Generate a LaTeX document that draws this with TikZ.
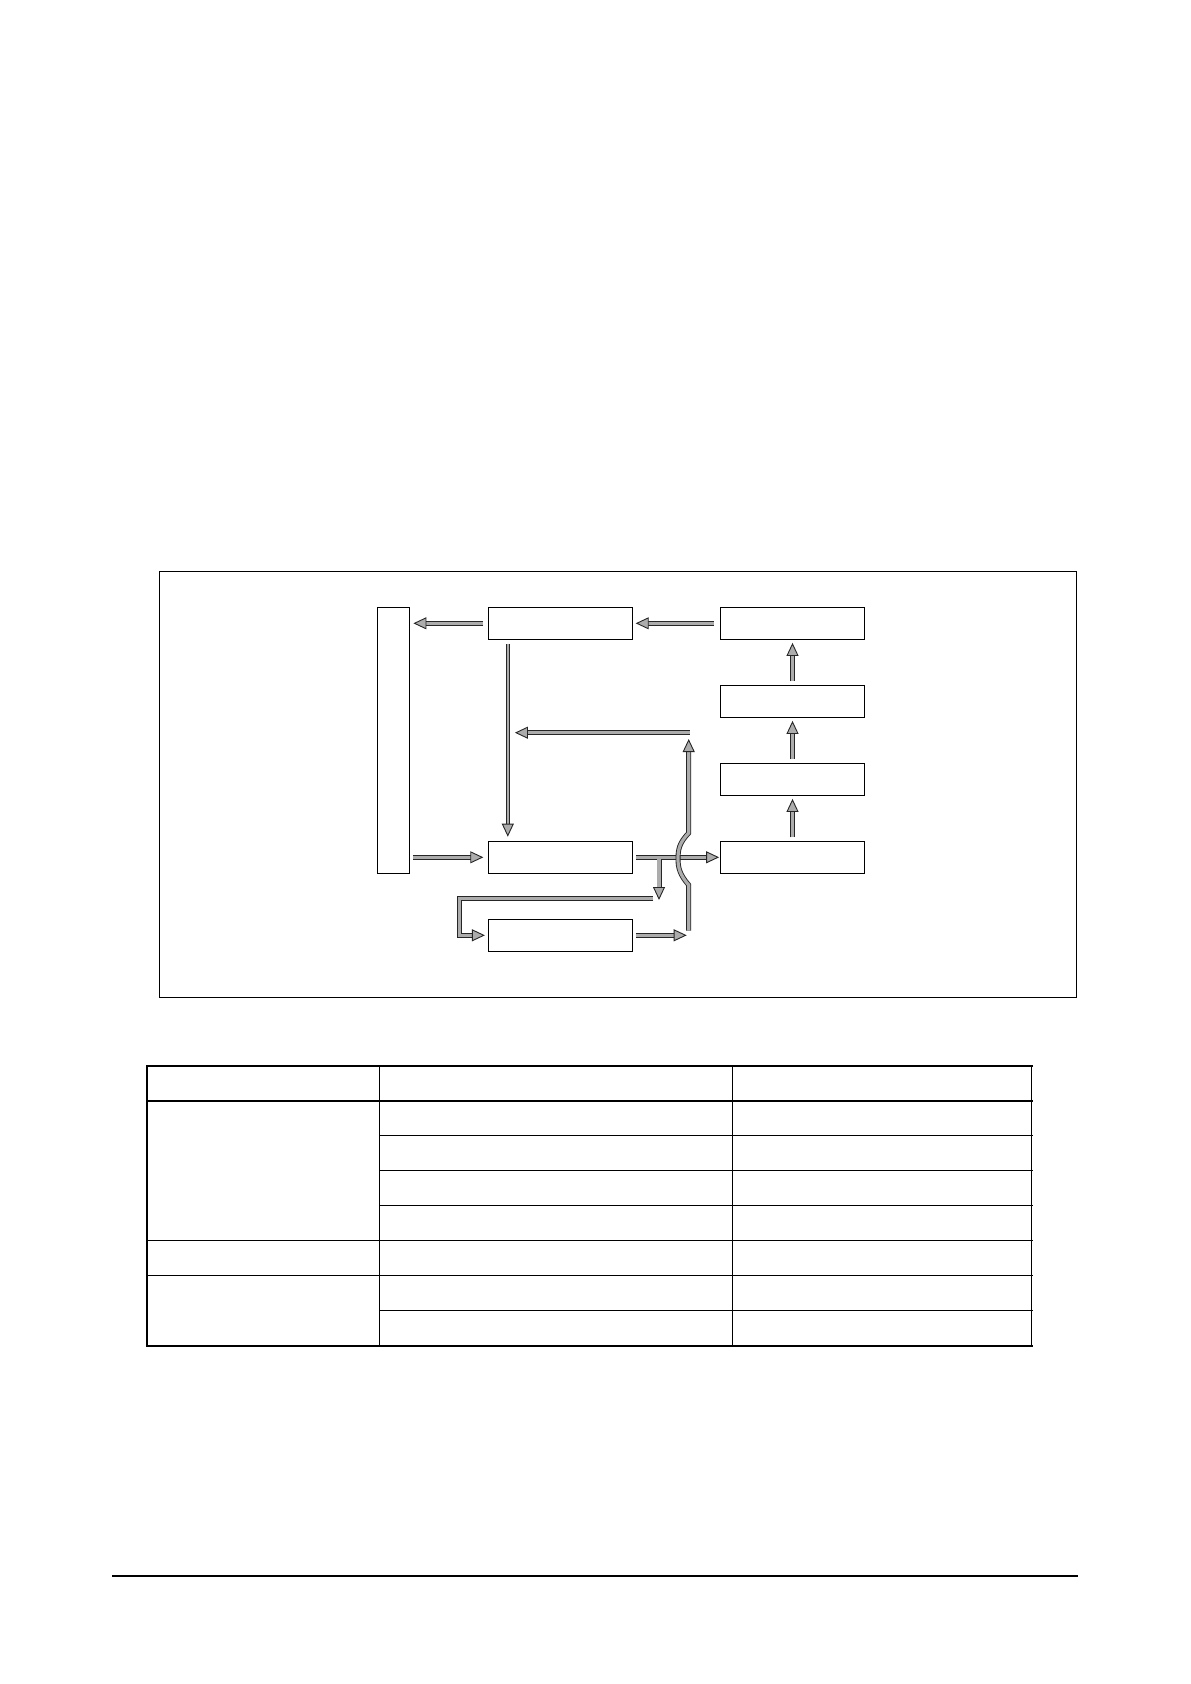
\documentclass[tikz,border=0pt]{standalone}
\usepackage{tikz}
\usetikzlibrary{arrows.meta}

\begin{document}
\begin{tikzpicture}[x=0.5pt, y=-0.5pt,
	box/.style={draw, line width=0.5pt, minimum width=72pt, minimum height=16pt, inner sep=0pt, outer sep=0pt},
	flow/.style={draw=black!85, line width=0.45pt, double=gray!65, double distance=1.6pt, -{Triangle[open, fill=gray!65, length=6.5pt, width=6pt, line width=0.45pt]}},
	thinrule/.style={line width=0.5pt},
	thickrule/.style={line width=0.9pt}]
	\useasboundingbox (0,0) rectangle (1190,1684);
	\draw[line width=0.5pt] (159.3,571.3) rectangle (1076.7,997.3);
	% blocks
	\node[box, minimum width=16pt, minimum height=133pt] (bus) at (393.4,740.3) {};
	\node[box] (mid1) at (560.9,623.3) {};
	\node[box] (mid2) at (560.9,857.3) {};
	\node[box] (mid3) at (560.9,935.3) {};
	\node[box] (right1) at (792.5,623.3) {};
	\node[box] (right2) at (792.5,701.3) {};
	\node[box] (right3) at (792.5,779.3) {};
	\node[box] (right4) at (792.5,857.3) {};
	\coordinate (fbR) at (689.5,732.7);
	\coordinate (fbL) at (514.9,732.7);
	\coordinate (split) at (659,857.3);
	\coordinate (loopR) at (653.3,898.7);
	\coordinate (upB) at (688.7,930.7);
	\coordinate (upT) at (688.7,739);
	% arrows
	\draw[flow, shorten <=2.8pt, shorten >=2pt] (mid1.west) -- (bus.east |- mid1.west);
	\draw[flow, shorten <=3.2pt, shorten >=1.4pt] (right1.west) -- (mid1.east);
	\draw[flow, shorten <=2pt, shorten >=1.8pt] (right4.north) -- (right3.south);
	\draw[flow, shorten <=2pt, shorten >=1.8pt] (right3.north) -- (right2.south);
	\draw[flow, shorten <=2pt, shorten >=1.8pt] (right2.north) -- (right1.south);
	\draw[flow, double distance=1.1pt, shorten <=2.2pt, shorten >=2.3pt] ([xshift=9.45pt]mid1.south west) -- ([xshift=9.45pt]mid2.north west);
	\draw[flow] (fbR) -- (fbL);
	\draw[flow, shorten <=2pt, shorten >=2.8pt] (bus.east |- mid2.west) -- (mid2.west);
	\draw[flow, shorten <=1.6pt, shorten >=0.7pt] (mid2.east) -- (right4.west);
	\draw[flow] (split) -- ++(0,42.7);
	\draw[gray!65, line width=1.6pt] ([xshift=-2.6pt]split) -- ([xshift=2.6pt]split);
	\draw[flow, shorten >=2pt] (loopR) -| ([xshift=-14.7pt]mid3.west) -- (mid3.west);
	\draw[flow, shorten <=1.6pt, shorten >=1pt] (mid3.east) -- (mid3.east -| upB);
	\draw[flow] (upB) -- (688.7,885) .. controls (680,875) and (678,868) .. (678,859) .. controls (678,850) and (679,843) .. (688.7,833) -- (upT);
	% table
	\draw[thickrule] (1033,1066) -- (147,1066) -- (147,1345.7) -- (1033,1345.7);
	\draw[thickrule] (147,1101) -- (1033,1101);
	\draw[thinrule] (379.3,1066) -- (379.3,1345.7);
	\draw[thinrule] (732,1066) -- (732,1345.7);
	\draw[thinrule] (1031.7,1066) -- (1031.7,1345.7);
	\foreach \y in {1135.3,1170.3,1205.3,1310.3}
		\draw[thinrule] (379.3,\y) -- (1033,\y);
	\foreach \y in {1240.3,1275.3}
		\draw[thinrule] (147,\y) -- (1033,\y);
	\draw[line width=1pt] (112,1575.7) -- (1078,1575.7);
\end{tikzpicture}
\end{document}
